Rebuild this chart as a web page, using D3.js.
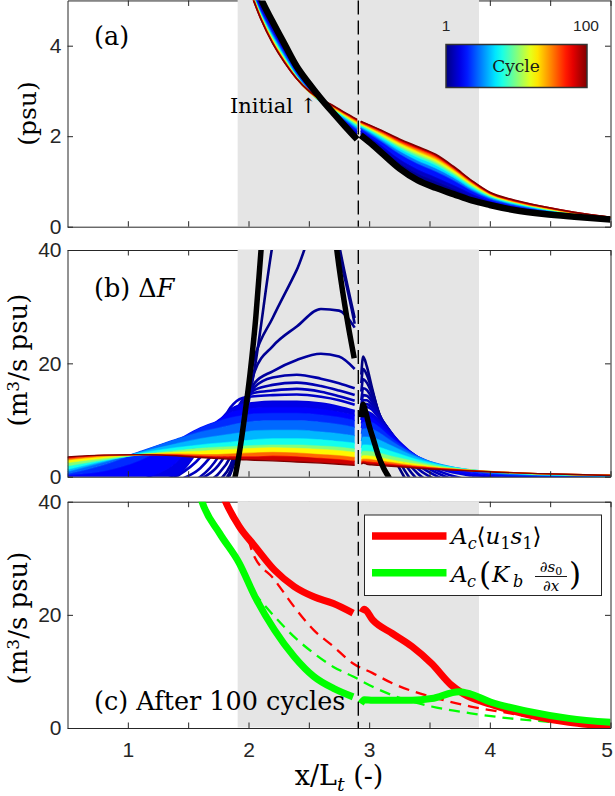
<!DOCTYPE html>
<html>
<head>
<meta charset="utf-8">
<script src="https://cdn.jsdelivr.net/npm/d3@7"></script>
<style>
  body { margin: 0; background: #fff; }
  svg { display: block; }
  .axis .domain, .axis line { stroke: #262626; stroke-width: 1; }
  .axis text { font-family: 'Liberation Sans', Arial, sans-serif; font-size: 21px; fill: #262626; }
</style>
</head>
<body>
<div id="chart"></div>
<script>
// shared x axis
const xTicks = [1, 1.5, 2, 2.5, 3, 3.5, 4, 4.5, 5]
const shade = [1.91, 3.91]
const splitX = 2.91

// panel (a): salinity, cycles 1..100 and the initial profile
const aTicks = [0, 2, 4]
const aCycles = [1, 5, 10, 20, 30, 40, 50, 60, 70, 80, 90, 100]
const aLeftX = [2.0, 2.1, 2.2, 2.3, 2.4, 2.5, 2.6, 2.7, 2.8, 2.9]
const aRightX = [2.93, 3.0, 3.1, 3.25, 3.4, 3.55, 3.7, 3.85, 4.0, 4.2, 4.45, 4.7, 5.0]
const aBlackLeft = [5.8, 5.06, 4.53, 4.03, 3.54, 3.17, 2.83, 2.52, 2.22, 1.93]
const aBlackRight = [2.02, 1.87, 1.64, 1.29, 1.03, 0.86, 0.72, 0.58, 0.48, 0.37, 0.28, 0.22, 0.16]
const aLeft = [
  [5.6, 4.95, 4.44, 3.96, 3.5, 3.14, 2.83, 2.54, 2.26, 1.98],
  [5.5, 4.87, 4.37, 3.9, 3.45, 3.1, 2.81, 2.55, 2.29, 2.04],
  [5.45, 4.82, 4.32, 3.85, 3.41, 3.07, 2.79, 2.56, 2.32, 2.09],
  [5.4, 4.76, 4.26, 3.8, 3.37, 3.03, 2.77, 2.57, 2.36, 2.15],
  [5.38, 4.72, 4.21, 3.75, 3.33, 3.0, 2.76, 2.58, 2.39, 2.19],
  [5.36, 4.69, 4.17, 3.72, 3.31, 2.99, 2.76, 2.6, 2.42, 2.23],
  [5.35, 4.67, 4.14, 3.69, 3.29, 2.99, 2.77, 2.61, 2.44, 2.26],
  [5.34, 4.65, 4.11, 3.67, 3.28, 2.99, 2.78, 2.63, 2.46, 2.29],
  [5.33, 4.63, 4.09, 3.65, 3.27, 2.99, 2.79, 2.64, 2.48, 2.32],
  [5.32, 4.62, 4.07, 3.64, 3.27, 3.0, 2.8, 2.66, 2.5, 2.34],
  [5.31, 4.61, 4.06, 3.63, 3.27, 3.0, 2.81, 2.67, 2.51, 2.36],
  [5.3, 4.6, 4.05, 3.62, 3.27, 3.0, 2.82, 2.68, 2.52, 2.37]
]
const aRight = [
  [2.04, 1.89, 1.66, 1.32, 1.07, 0.9, 0.75, 0.6, 0.49, 0.38, 0.29, 0.22, 0.16],
  [2.08, 1.95, 1.74, 1.42, 1.18, 1.01, 0.84, 0.67, 0.54, 0.41, 0.31, 0.24, 0.17],
  [2.12, 2.0, 1.8, 1.5, 1.27, 1.1, 0.92, 0.73, 0.57, 0.44, 0.33, 0.25, 0.18],
  [2.18, 2.06, 1.89, 1.62, 1.4, 1.23, 1.03, 0.8, 0.62, 0.48, 0.36, 0.27, 0.19],
  [2.21, 2.1, 1.93, 1.68, 1.47, 1.3, 1.09, 0.84, 0.65, 0.5, 0.38, 0.28, 0.19],
  [2.23, 2.13, 1.98, 1.74, 1.54, 1.37, 1.14, 0.88, 0.67, 0.52, 0.39, 0.29, 0.19],
  [2.26, 2.16, 2.01, 1.78, 1.59, 1.42, 1.18, 0.91, 0.69, 0.54, 0.4, 0.3, 0.2],
  [2.27, 2.18, 2.04, 1.82, 1.64, 1.47, 1.22, 0.94, 0.71, 0.55, 0.41, 0.3, 0.2],
  [2.29, 2.2, 2.07, 1.86, 1.68, 1.51, 1.26, 0.97, 0.73, 0.56, 0.42, 0.31, 0.2],
  [2.31, 2.22, 2.1, 1.89, 1.72, 1.55, 1.29, 0.99, 0.74, 0.57, 0.43, 0.31, 0.21],
  [2.32, 2.24, 2.12, 1.92, 1.75, 1.58, 1.31, 1.01, 0.75, 0.58, 0.44, 0.32, 0.21],
  [2.33, 2.25, 2.13, 1.94, 1.77, 1.6, 1.33, 1.02, 0.76, 0.59, 0.44, 0.32, 0.21]
]

// panel (b): Delta F per cycle
const bTicks = [0, 20, 40]
const bCycles = [1, 2, 3, 4, 5, 6, 7, 8, 10, 12, 15, 20, 27, 35, 45, 57, 70, 85, 100]
const bLeftX = [0.5, 0.8, 1.1, 1.4, 1.6, 1.75, 1.85, 1.95, 2.05, 2.2, 2.4, 2.6, 2.75, 2.88]
const bRightX = [2.935, 2.95, 2.98, 3.02, 3.08, 3.15, 3.25, 3.4, 3.6, 3.85, 4.1, 4.4, 4.7, 5.0]
const bLeft = [
  [-8, -8, -7, -5, -3.5, -2, 0.5, 8, 19, 41, 60, 60, 41, 28],
  [-8, -7.5, -6.5, -4.5, -3, -1.5, 1, 11, 21, 28, 36.5, 46, 39, 27],
  [-7, -6.5, -5.5, -4, -2.5, -0.8, 2, 9, 18.5, 23, 26.5, 29.6, 29.3, 26.3],
  [-6, -5.5, -4.5, -3, -1.5, 0.5, 3.5, 10, 16.5, 18.6, 20.6, 21.7, 21.2, 19],
  [-5.5, -5, -4, -2.3, -0.5, 2, 5.5, 12, 15.8, 17.5, 18, 17.3, 16.5, 15.6],
  [-5, -4.5, -3.5, -1.5, 0, 3.5, 7.5, 13, 15.3, 16.2, 16.6, 16, 15.2, 14.4],
  [-4.5, -4, -3, -0.8, 1.5, 5.5, 9.5, 13.5, 14.8, 15.2, 15.5, 15, 14.2, 13.4],
  [-4, -3.5, -2.2, 0, 3.4, 8.2, 12.2, 13.9, 14.2, 14.4, 14.5, 14.1, 13.5, 12.7],
  [-3, -2.5, -1.2, 0.2, 5.2, 9.5, 11.8, 12.7, 13, 13.2, 13.2, 12.9, 12.3, 11.6],
  [-2, -1.5, -0.5, 2.5, 7.2, 10.0, 11.3, 11.8, 12.1, 12.2, 12.2, 11.9, 11.4, 10.8],
  [0.3, 1, 2.9, 6.3, 8.6, 9.8, 10.4, 10.8, 11.1, 11.2, 11.2, 10.9, 10.5, 9.9],
  [0.5, 2.1, 4.4, 6.6, 7.9, 8.6, 9.1, 9.5, 9.8, 9.9, 9.9, 9.6, 9.2, 8.7],
  [0.9, 2.6, 4.3, 5.8, 6.7, 7.2, 7.5, 7.8, 8.1, 8.2, 8.2, 7.9, 7.6, 7.2],
  [1.3, 2.8, 4.1, 5.1, 5.6, 5.9, 6.1, 6.3, 6.5, 6.7, 6.7, 6.5, 6.2, 5.9],
  [1.9, 3, 3.9, 4.6, 5, 5.2, 5.3, 5.4, 5.5, 5.6, 5.6, 5.4, 5.2, 4.9],
  [2.5, 3.3, 3.9, 4.3, 4.5, 4.7, 4.8, 4.9, 5.0, 5.1, 5.0, 4.8, 4.6, 4.3],
  [3.0, 3.6, 3.9, 4.0, 3.9, 3.9, 4.0, 4.1, 4.2, 4.3, 4.2, 3.9, 3.7, 3.4],
  [3.3, 3.8, 3.9, 3.8, 3.6, 3.5, 3.5, 3.5, 3.5, 3.6, 3.5, 3.2, 3.0, 2.7],
  [3.5, 3.8, 3.9, 3.7, 3.4, 3.2, 3.1, 3.0, 2.9, 2.8, 2.6, 2.4, 2.2, 2.0]
]
const bRight = [
  [18, 21.2, 19.5, 16, 11, 6, 1.5, -3, -4, -4, -4, -4, -4, -4],
  [16.5, 19, 18, 15.5, 11.3, 7, 2.7, -1.8, -3.5, -4, -4, -4, -4, -4],
  [15, 17.2, 16.6, 14.8, 11.3, 7.8, 3.8, -0.5, -2.8, -3.5, -3.5, -3.5, -3.5, -3.5],
  [13.5, 15.6, 15.3, 14, 11.2, 8.3, 4.6, 0.6, -1.8, -3, -3, -3, -3, -3],
  [12.5, 14.4, 14.3, 13.4, 11, 8.6, 5.2, 1.5, -1, -2.5, -2.5, -2.5, -2.5, -2.5],
  [11.8, 13.5, 13.5, 12.8, 10.8, 8.7, 5.6, 2.2, -0.3, -2, -2, -2, -2, -2],
  [11.2, 12.8, 12.8, 12.3, 10.6, 8.7, 5.8, 2.7, 0.3, -1.2, -1.5, -1.5, -1.5, -1.5],
  [10.8, 12.2, 12.3, 11.9, 10.4, 8.6, 6, 3.0, 0.8, -0.6, -1, -1, -1, -1],
  [10, 11.3, 11.4, 11.1, 9.9, 8.4, 6.1, 3.4, 1.3, 0.2, -0.3, -0.5, -0.5, -0.5],
  [9.4, 10.5, 10.6, 10.4, 9.4, 8.0, 6.0, 3.6, 1.6, 0.5, 0.1, -0.1, -0.2, -0.2],
  [8.6, 9.6, 9.7, 9.6, 8.8, 7.5, 5.8, 3.6, 1.8, 0.8, 0.3, 0.1, 0, 0],
  [7.6, 8.4, 8.5, 8.4, 7.8, 6.8, 5.4, 3.6, 2.0, 1.0, 0.5, 0.25, 0.1, 0.05],
  [6.3, 7.0, 7.0, 6.9, 6.5, 5.8, 4.8, 3.4, 2.1, 1.1, 0.6, 0.35, 0.2, 0.1],
  [5.1, 5.6, 5.6, 5.5, 5.2, 4.7, 4.0, 3.0, 2.0, 1.2, 0.7, 0.4, 0.25, 0.15],
  [4.1, 4.5, 4.5, 4.4, 4.2, 3.8, 3.3, 2.6, 1.8, 1.2, 0.75, 0.45, 0.3, 0.2],
  [3.4, 3.7, 3.7, 3.6, 3.4, 3.1, 2.7, 2.2, 1.6, 1.1, 0.8, 0.5, 0.35, 0.25],
  [2.9, 3.1, 3.1, 3.0, 2.8, 2.6, 2.3, 1.9, 1.5, 1.1, 0.8, 0.55, 0.4, 0.3],
  [2.5, 2.7, 2.6, 2.5, 2.4, 2.2, 2.0, 1.7, 1.4, 1.05, 0.8, 0.55, 0.4, 0.25],
  [2.2, 2.4, 2.2, 2.1, 2.0, 1.9, 1.75, 1.5, 1.25, 1.0, 0.75, 0.55, 0.4, 0.2]
]
const bBlackLeftX = [1.84, 1.889, 1.93, 1.97, 2.013, 2.06, 2.104, 2.15, 2.3, 2.5, 2.65, 2.7, 2.732, 2.8, 2.876]
const bBlackLeft = [-4, 0, 5, 11, 18.2, 28, 40, 52, 80, 90, 62, 46, 40, 30, 20.9]
const bBlackRightX = [2.935, 2.948, 2.97, 3.0, 3.036, 3.08, 3.12, 3.16, 3.2]
const bBlackRight = [10.5, 12.8, 11.5, 9, 6.5, 3.5, 1.5, 0, -1.5]

// panel (c): fluxes after 100 cycles (solid) and initial (dashed)
const cTicks = [0, 20, 40]
const cRedLeft = [[1.79, 41], [1.81, 40], [1.924, 35.6], [2.054, 32.1], [2.216, 27.9], [2.379, 25.0], [2.541, 23.2], [2.704, 22.0], [2.867, 20.3]]
const cRedRight = [[2.94, 20.4], [2.96, 21.0], [3.029, 19.1], [3.192, 16.7], [3.355, 14.4], [3.517, 11.4], [3.68, 7.6], [3.777, 6.1], [4.005, 4.2], [4.33, 2.3], [4.655, 1.0], [5.0, 0.3]]
const cGreenLeft = [[1.6, 41], [1.615, 40], [1.761, 34.4], [1.924, 29.1], [2.054, 23.2], [2.216, 17.3], [2.379, 12.6], [2.541, 9.1], [2.704, 7.0], [2.867, 5.5]]
const cGreenRight = [[2.93, 4.3], [2.96, 5.0], [3.029, 4.9], [3.355, 4.9], [3.517, 5.2], [3.745, 6.4], [3.842, 6.0], [4.005, 4.6], [4.33, 2.9], [4.655, 1.7], [5.0, 1.0]]
const cRedDash = [[2.0, 33.4], [2.03, 31.2], [2.216, 26.2], [2.379, 21.4], [2.541, 17.3], [2.704, 14.4], [2.867, 11.4], [3.029, 9.7], [3.192, 7.9], [3.517, 5.5], [3.842, 3.8], [4.167, 2.6], [4.492, 1.4], [5.0, 0.1]]
const cGreenDash = [[2.04, 24.0], [2.216, 19.7], [2.379, 16.1], [2.541, 13.2], [2.704, 10.8], [2.867, 9.1], [3.029, 7.3], [3.192, 5.8], [3.517, 3.8], [3.842, 2.6], [4.167, 1.7], [4.492, 1.1], [5.0, 0.5]]

const W = 615
const H = 796
const SERIF = "'DejaVu Serif', 'Liberation Serif', serif"
const SANS = "'Liberation Sans', Arial, sans-serif"
const x = d3.scaleLinear().domain([0.5, 5]).range([67.5, 610.5])
const yA = d3.scaleLinear().domain([0, 5]).range([226.7, 0.45])
const yB = d3.scaleLinear().domain([0, 40]).range([476.7, 250])
const yC = d3.scaleLinear().domain([0, 40]).range([728, 501.7])

function jet (t) {
  const c = v => Math.max(0, Math.min(1, v))
  return d3.rgb(255 * c(1.5 - Math.abs(4 * t - 3)), 255 * c(1.5 - Math.abs(4 * t - 2)), 255 * c(1.5 - Math.abs(4 * t - 1))).formatHex()
}
const cycleColor = k => jet((k - 1) / 99)

const svg = d3.select('#chart').append('svg').attr('width', W).attr('height', H)
const defs = svg.append('defs')

function tex (sel, size) {
  return sel.append('text').style('font-family', SERIF).style('font-size', size + 'px').attr('fill', '#000')
}

function makePanel (id, y, yTicks, withLabels) {
  const [yb, yt] = y.range()
  defs.append('clipPath').attr('id', 'clip-' + id)
    .append('rect').attr('x', x(0.5)).attr('y', yt).attr('width', x(5) - x(0.5)).attr('height', yb - yt)
  const g = svg.append('g')
  g.append('g').attr('class', 'axis').attr('transform', `translate(0,${yt})`)
    .call(d3.axisTop(x).tickValues(xTicks).tickSize(-5.5).tickSizeOuter(0).tickFormat(''))
  g.append('rect')
    .attr('x', x(shade[0])).attr('y', yt - 0.5)
    .attr('width', x(shade[1]) - x(shade[0])).attr('height', yb - yt)
    .attr('fill', '#e5e5e5')
  const plot = g.append('g').attr('clip-path', `url(#clip-${id})`)
  function finish () {
    g.append('line')
      .attr('x1', x(splitX)).attr('x2', x(splitX)).attr('y1', yt).attr('y2', yb)
      .attr('stroke', '#000').attr('stroke-width', 1.4).attr('stroke-dasharray', '14,6')
    const bottom = g.append('g').attr('class', 'axis').attr('transform', `translate(0,${yb})`)
      .call(d3.axisBottom(x).tickValues(xTicks).tickSize(-5.5).tickSizeOuter(0).tickPadding(14)
        .tickFormat(d => withLabels && Number.isInteger(d) ? d : ''))
    // keep the last label inside the picture
    bottom.selectAll('.tick').filter(d => d === 5).select('text').attr('dx', -4)
    g.append('g').attr('class', 'axis').attr('transform', `translate(${x(0.5)},0)`)
      .call(d3.axisLeft(y).tickValues(yTicks).tickSize(-5.5).tickSizeOuter(0).tickPadding(6).tickFormat(d3.format('d')))
    g.append('g').attr('class', 'axis').attr('transform', `translate(${x(5)},0)`)
      .call(d3.axisRight(y).tickValues(yTicks).tickSize(-5.5).tickSizeOuter(0).tickFormat(''))
  }
  return { g, plot, finish }
}

const lineOf = y => d3.line().x(d => x(d[0])).y(d => y(d[1])).curve(d3.curveMonotoneX)
const areaOf = y => d3.area().x(d => x(d[0])).y0(d => y(d[1])).y1(d => y(d[2])).curve(d3.curveMonotoneX)
const pairs = (xs, ys) => xs.map((v, i) => [v, ys[i]])
const bands = (xs, a, b) => xs.map((v, i) => [v, a[i], b[i]])

// ---------- panel (a)
const pa = makePanel('a', yA, aTicks, false)
aCycles.forEach((k, i) => {
  if (i > 0) {
    const col = cycleColor((aCycles[i - 1] + k) / 2)
    pa.plot.append('path').attr('d', areaOf(yA)(bands(aLeftX, aLeft[i - 1], aLeft[i]))).attr('fill', col)
    pa.plot.append('path').attr('d', areaOf(yA)(bands(aRightX, aRight[i - 1], aRight[i]))).attr('fill', col)
  }
  ;[[aLeftX, aLeft[i]], [aRightX, aRight[i]]].forEach(([xs, ys]) => {
    pa.plot.append('path').attr('d', lineOf(yA)(pairs(xs, ys)))
      .attr('fill', 'none').attr('stroke', cycleColor(k)).attr('stroke-width', 1.6)
  })
})
;[[aLeftX, aBlackLeft], [aRightX, aBlackRight]].forEach(([xs, ys]) => {
  pa.plot.append('path').attr('d', lineOf(yA)(pairs(xs, ys)))
    .attr('fill', 'none').attr('stroke', '#000').attr('stroke-width', 6.5).attr('stroke-linejoin', 'round')
})
pa.finish()

// ---------- panel (b)
const pb = makePanel('b', yB, bTicks, false)
const firstFilled = bCycles.indexOf(10) + 1
bCycles.forEach((k, i) => {
  if (i >= firstFilled) {
    const col = cycleColor((bCycles[i - 1] + k) / 2)
    pb.plot.append('path').attr('d', areaOf(yB)(bands(bLeftX, bLeft[i - 1], bLeft[i]))).attr('fill', col)
    pb.plot.append('path').attr('d', areaOf(yB)(bands(bRightX, bRight[i - 1], bRight[i]))).attr('fill', col)
  }
  ;[[bLeftX, bLeft[i]], [bRightX, bRight[i]]].forEach(([xs, ys]) => {
    pb.plot.append('path').attr('d', lineOf(yB)(pairs(xs, ys)))
      .attr('fill', 'none').attr('stroke', cycleColor(k))
      .attr('stroke-width', i < firstFilled ? 2.6 : 1.4)
  })
})
;[[bBlackLeftX, bBlackLeft], [bBlackRightX, bBlackRight]].forEach(([xs, ys]) => {
  pb.plot.append('path').attr('d', lineOf(yB)(pairs(xs, ys)))
    .attr('fill', 'none').attr('stroke', '#000').attr('stroke-width', 5.5)
})
pb.finish()

// ---------- panel (c)
const pc = makePanel('c', yC, cTicks, true)
const lc = lineOf(yC)
pc.plot.append('path').attr('d', lc(cRedDash)).attr('fill', 'none').attr('stroke', '#ff0000').attr('stroke-width', 2.3).attr('stroke-dasharray', '11,7')
pc.plot.append('path').attr('d', lc(cGreenDash)).attr('fill', 'none').attr('stroke', '#00ff00').attr('stroke-width', 2.3).attr('stroke-dasharray', '11,7')
;[cRedLeft, cRedRight].forEach(d => pc.plot.append('path').attr('d', lc(d)).attr('fill', 'none').attr('stroke', '#ff0000').attr('stroke-width', 7).attr('stroke-linejoin', 'round'))
;[cGreenLeft, cGreenRight].forEach(d => pc.plot.append('path').attr('d', lc(d)).attr('fill', 'none').attr('stroke', '#00ff00').attr('stroke-width', 7).attr('stroke-linejoin', 'round'))
pc.finish()

// ---------- colorbar (panel a)
const grad = defs.append('linearGradient').attr('id', 'jet')
d3.range(0, 1.0001, 0.05).forEach(t => grad.append('stop').attr('offset', t).attr('stop-color', jet(t)))
svg.append('rect').attr('x', 446).attr('y', 44.5).attr('width', 141).attr('height', 43)
  .attr('fill', 'url(#jet)').attr('stroke', '#333').attr('stroke-width', 1.5)
;[['1', 446], ['100', 586]].forEach(([s, px]) => svg.append('text').attr('x', px).attr('y', 31).attr('text-anchor', 'middle')
  .style('font-family', SANS).style('font-size', '15.5px').attr('fill', '#262626').text(s))
tex(svg, 17).attr('x', 516).attr('y', 71.5).attr('text-anchor', 'middle').attr('fill', '#1a1a1a').text('Cycle')

// ---------- panel labels
tex(svg, 25.5).attr('x', 94).attr('y', 45).text('(a)')
tex(svg, 21).attr('x', 230).attr('y', 112.5).text('Initial \u2191')
const tb = tex(svg, 25.5).attr('x', 94).attr('y', 296.5)
tb.append('tspan').text('(b) \u0394')
tb.append('tspan').style('font-style', 'italic').text('F')
tex(svg, 25.5).attr('x', 94).attr('y', 709.5).text('(c) After 100 cycles')

// ---------- axis labels
tex(svg, 25).attr('transform', 'translate(36,113.5) rotate(-90)').attr('text-anchor', 'middle').text('(psu)')
function fluxLabel (cy) {
  const t = tex(svg, 26).attr('transform', `translate(27,${cy}) rotate(-90)`).attr('text-anchor', 'middle')
  t.append('tspan').text('(m')
  t.append('tspan').attr('dy', -8).style('font-size', '17px').text('3')
  t.append('tspan').attr('dy', 8).text('/s psu)')
}
fluxLabel(360)
fluxLabel(618)
const xl = tex(svg, 27).attr('x', 339).attr('y', 785).attr('text-anchor', 'middle')
xl.append('tspan').text('x/L')
xl.append('tspan').attr('dy', 6).style('font-size', '19px').style('font-style', 'italic').text('t')
xl.append('tspan').attr('dy', -6).text(' (-)')

// ---------- legend (panel c)
svg.append('rect').attr('x', 364.5).attr('y', 515).attr('width', 237).attr('height', 80.5)
  .attr('fill', '#fff').attr('stroke', '#262626').attr('stroke-width', 1)
const legendRows = [{ color: '#ff0000', y: 536 }, { color: '#00ff00', y: 572.7 }]
legendRows.forEach(r => svg.append('line').attr('x1', 372).attr('x2', 446.5).attr('y1', r.y).attr('y2', r.y)
  .attr('stroke', r.color).attr('stroke-width', 7.5))
const l1 = tex(svg, 23).attr('x', 451).attr('y', 544)
l1.append('tspan').style('font-style', 'italic').text('A')
l1.append('tspan').attr('dy', 5).style('font-size', '16px').style('font-style', 'italic').text('c')
l1.append('tspan').attr('dy', -5).text('\u27E8')
l1.append('tspan').style('font-style', 'italic').text('u')
l1.append('tspan').attr('dy', 5).style('font-size', '16px').text('1')
l1.append('tspan').attr('dy', -5).style('font-style', 'italic').text('s')
l1.append('tspan').attr('dy', 5).style('font-size', '16px').text('1')
l1.append('tspan').attr('dy', -5).text('\u27E9')
// second entry, placed piece by piece
tex(svg, 23).attr('x', 451).attr('y', 582).style('font-style', 'italic').text('A')
tex(svg, 16).attr('x', 467).attr('y', 587).style('font-style', 'italic').text('c')
tex(svg, 31).attr('x', 479).attr('y', 585).text('(')
tex(svg, 23).attr('x', 492).attr('y', 582).style('font-style', 'italic').text('K')
tex(svg, 16).attr('x', 513).attr('y', 587).style('font-style', 'italic').text('b')
const num = tex(svg, 15).attr('x', 551).attr('y', 572).attr('text-anchor', 'middle')
num.append('tspan').text('\u2202')
num.append('tspan').style('font-style', 'italic').text('s')
num.append('tspan').attr('dy', 3).style('font-size', '11px').text('0')
svg.append('line').attr('x1', 535).attr('x2', 567).attr('y1', 576.5).attr('y2', 576.5).attr('stroke', '#000').attr('stroke-width', 0.9)
const den = tex(svg, 15).attr('x', 551).attr('y', 591).attr('text-anchor', 'middle')
den.append('tspan').text('\u2202')
den.append('tspan').style('font-style', 'italic').text('x')
tex(svg, 31).attr('x', 569).attr('y', 585).text(')')
</script>
</body>
</html>
